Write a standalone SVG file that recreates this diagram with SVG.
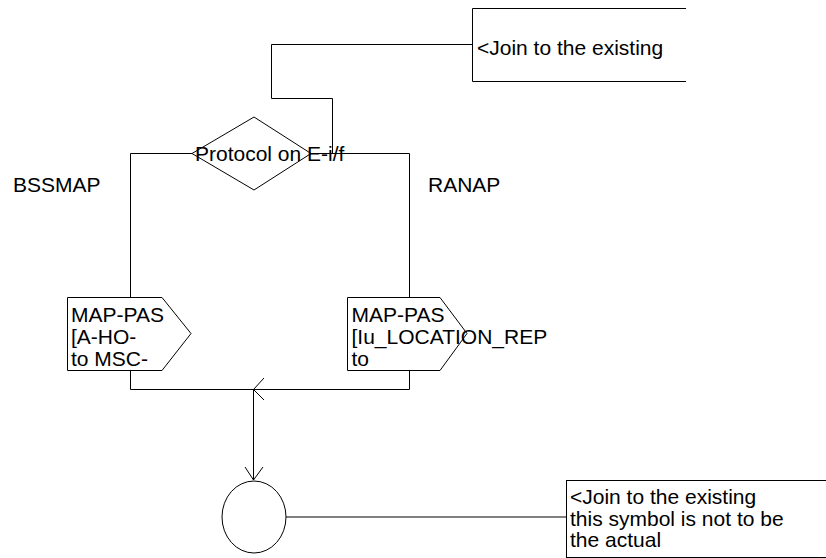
<svg xmlns="http://www.w3.org/2000/svg" width="826" height="558" viewBox="0 0 826 558">
<defs>
<style>
.s{fill:none;stroke:#000;stroke-width:1}
.w{fill:#fff;stroke:#000;stroke-width:1}
text{font-family:"Liberation Sans",Arial,sans-serif;font-size:21px;fill:#000}
</style>
</defs>
<rect width="826" height="558" fill="#fff"/>
<g id="connectors">
<polyline class="s" points="472,44.5 271.5,44.5 271.5,98.5 332.5,98.5 332.5,153.5"/>
<polyline class="s" points="192,153.5 130.5,153.5 130.5,297"/>
<polyline class="s" points="311,153.5 409.5,153.5 409.5,297"/>
<polyline class="s" points="130.5,370 130.5,389.5 409.5,389.5 409.5,370"/>
<polyline class="s" points="264,378 253.5,389.5 264,400"/>
<line class="s" x1="253.5" y1="389.5" x2="253.5" y2="480"/>
<polyline class="s" points="245,467 253.5,480 263,467"/>
<line class="s" x1="286" y1="517" x2="566" y2="517"/>
</g>
<g id="comment-top">
<polyline class="s" points="686,8.5 472.5,8.5 472.5,81.5 686,81.5"/>
<text x="477" y="55">&lt;Join to the existing</text>
</g>
<g id="decision">
<polygon class="w" points="254,117 311,153.5 254,190 192,153.5"/>
<text x="195" y="161">Protocol on E-i/f</text>
</g>
<g id="label-bssmap"><text x="13" y="192">BSSMAP</text></g>
<g id="label-ranap"><text x="428" y="192">RANAP</text></g>
<g id="output-left">
<polygon class="w" points="67.5,297.5 162,297.5 191,333.5 162,370.5 67.5,370.5"/>
<text x="71" y="322">MAP-PAS</text>
<text x="71" y="344">[A-HO-</text>
<text x="71" y="366">to MSC-</text>
</g>
<g id="output-right">
<polygon class="w" points="347.5,297.5 440,297.5 467,333.5 440,370.5 347.5,370.5"/>
<text x="351.5" y="322">MAP-PAS</text>
<text x="351.5" y="344">[Iu_LOCATION_REP</text>
<text x="351.5" y="366">to</text>
</g>
<g id="connector-circle">
<ellipse class="w" cx="254" cy="517" rx="32" ry="36"/>
</g>
<g id="comment-bottom">
<rect class="s" x="566.5" y="480.5" width="300" height="77"/>
<text x="570" y="504">&lt;Join to the existing</text>
<text x="570" y="526">this symbol is not to be</text>
<text x="570" y="547">the actual</text>
</g>
</svg>
